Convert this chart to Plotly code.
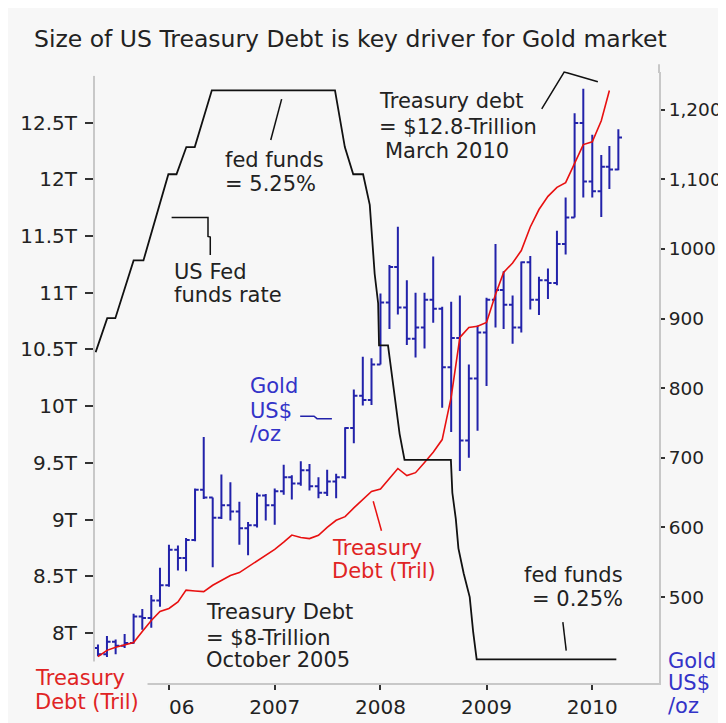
import plotly.graph_objects as go
import pandas as pd

# ---------------- data ----------------
gold_months = pd.date_range("2005-05-01", periods=60, freq="MS")
gold_open = [427, 418, 436, 430, 434, 472, 470, 495, 517, 568, 556, 582, 654, 643, 614, 632, 623, 599, 603, 646,
             632, 652, 672, 663, 682, 659, 650, 666, 672, 743, 789, 783, 834, 923, 974, 916, 871, 887, 927, 914,
             830, 872, 725, 814, 880, 927, 941, 920, 887, 981, 927, 955, 951, 1007, 1045, 1181, 1097, 1083, 1118, 1114]
gold_high = [432, 444, 439, 447, 476, 483, 503, 542, 575, 574, 585, 656, 730, 643, 676, 665, 637, 608, 650, 648,
             656, 690, 675, 695, 691, 672, 683, 677, 744, 798, 845, 843, 936, 977, 1032, 955, 937, 937, 989, 917,
             924, 933, 834, 890, 930, 1007, 968, 933, 982, 990, 960, 972, 1026, 1074, 1195, 1230, 1164, 1135, 1148, 1172]
gold_low = [415, 414, 418, 427, 433, 453, 456, 486, 515, 538, 537, 580, 641, 543, 612, 610, 575, 560, 600, 610,
            604, 647, 640, 660, 653, 642, 645, 642, 670, 721, 775, 776, 834, 885, 906, 862, 844, 857, 894, 772,
            737, 681, 700, 739, 803, 887, 885, 864, 880, 913, 905, 928, 948, 992, 1045, 1074, 1074, 1046, 1086, 1113]
gold_close = [418, 436, 430, 434, 472, 470, 495, 517, 568, 556, 582, 654, 643, 614, 632, 623, 599, 603, 646, 632,
              652, 672, 663, 682, 659, 650, 666, 672, 743, 789, 783, 834, 923, 974, 916, 871, 887, 927, 914, 830,
              872, 725, 814, 880, 927, 941, 920, 887, 981, 927, 955, 951, 1007, 1045, 1181, 1097, 1083, 1118, 1114, 1160]

treasury_months = pd.date_range("2005-05-01", periods=59, freq="MS")
treasury_trillions = [7.790, 7.846, 7.874, 7.894, 7.915, 8.013, 8.110, 8.189, 8.215, 8.273,
                      8.377, 8.370, 8.364, 8.420, 8.465, 8.506, 8.532, 8.581, 8.633, 8.685,
                      8.737, 8.800, 8.863, 8.842, 8.832, 8.861, 8.931, 8.993, 9.025, 9.102,
                      9.179, 9.247, 9.268, 9.357, 9.450, 9.388, 9.413, 9.503, 9.594, 9.705,
                      10.080, 10.606, 10.693, 10.705, 10.738, 10.984, 11.179, 11.263, 11.372, 11.580,
                      11.734, 11.850, 11.929, 11.971, 12.147, 12.307, 12.331, 12.517, 12.784]

fed_dates = ["2005-04-23", "2005-06-02", "2005-06-30", "2005-09-01", "2005-10-05", "2005-12-30",
             "2006-01-27", "2006-03-02", "2006-03-31", "2006-05-29", "2007-07-28", "2007-08-31",
             "2007-09-29", "2007-11-02", "2007-11-25", "2007-12-07", "2007-12-12", "2007-12-24",
             "2007-12-27", "2008-01-27", "2008-02-07", "2008-02-24", "2008-03-07", "2008-03-24",
             "2008-08-31", "2008-09-05", "2008-09-17", "2008-09-26", "2008-10-14", "2008-11-04",
             "2008-11-16", "2008-11-28", "2010-03-25"]
fed_rate = [2.94, 3.24, 3.24, 3.75, 3.75, 4.51, 4.51, 4.75, 4.75, 5.25, 5.25, 4.75,
            4.51, 4.51, 4.24, 3.86, 3.63, 3.37, 3.00, 3.00, 2.79, 2.45, 2.22, 1.99,
            1.99, 1.70, 1.47, 1.21, 0.99, 0.78, 0.47, 0.23, 0.23]

year_ticks = ["2006-01-01", "2007-01-01", "2008-01-01", "2009-01-01", "2010-01-01"]
year_labels = ["2006", "2007", "2008", "2009", "2010"]
treasury_tickvals = [8, 8.5, 9, 9.5, 10, 10.5, 11, 11.5, 12, 12.5]
treasury_ticktext = ["8T", "8.5T", "9T", "9.5T", "10T", "10.5T", "11T", "11.5T", "12T", "12.5T"]
gold_tickvals = [500, 600, 700, 800, 900, 1000, 1100, 1200]
gold_ticktext = ["500", "600", "700", "800", "900", "1000", "1,100", "1,200"]

# ---------------- style / layout helpers ----------------
W, H = 726, 723
L, R, T, B = 86, 655, 64, 687
BG = "#f7f7f7"
BLUE = "#2222aa"
RED = "#e81010"
TXT = "#222222"
BLUE_TXT = "#3333c8"
RED_TXT = "#e02424"
FONT = "DejaVu Sans"
AXLINE = "#c8c8c8"


def px(x):
    return (x - L) / (R - L)


def py(y):
    return (B - y) / (B - T)


fig = go.Figure()
fig.add_trace(go.Ohlc(
    x=gold_months, open=gold_open, high=gold_high, low=gold_low, close=gold_close,
    xaxis="x", yaxis="y", tickwidth=0.45,
    increasing=dict(line=dict(color=BLUE, width=2)),
    decreasing=dict(line=dict(color=BLUE, width=2)),
    showlegend=False, hoverinfo="skip"))
fig.add_trace(go.Scatter(
    x=treasury_months, y=treasury_trillions, xaxis="x", yaxis="y2", mode="lines",
    line=dict(color=RED, width=1.6), showlegend=False, hoverinfo="skip"))
fig.add_trace(go.Scatter(
    x=fed_dates, y=fed_rate, xaxis="x", yaxis="y3", mode="lines",
    line=dict(color="#111111", width=1.8), showlegend=False, hoverinfo="skip"))

tickfont = dict(family=FONT, size=20, color=TXT)

fig.update_layout(
    width=W, height=H,
    margin=dict(l=L, r=W - R, t=T, b=H - B, pad=0),
    paper_bgcolor=BG, plot_bgcolor=BG,
    showlegend=False,
    title=dict(text="Size of US Treasury Debt is key driver for Gold market",
               x=26 / W, xanchor="left", xref="container",
               y=1 - 31 / H, yanchor="middle", yref="container",
               font=dict(family=FONT, size=23.5, color=TXT)),
    xaxis=dict(type="date", range=["2005-04-20 18:00", "2010-08-19 06:00"],
               tickvals=year_ticks, ticktext=year_labels,
               ticks="outside", ticklen=5, tickwidth=1.5, tickcolor="#333333",
               showline=True, linecolor=AXLINE, linewidth=2,
               showgrid=False, zeroline=False, tickfont=tickfont,
               rangeslider=dict(visible=False)),
    yaxis=dict(side="right", range=[376.6, 1254.1],
               tickvals=gold_tickvals, ticktext=gold_ticktext,
               ticks="outside", ticklen=4, tickwidth=1.5, tickcolor="#333333",
               showline=True, linecolor=AXLINE, linewidth=2,
               showgrid=False, zeroline=False,
               tickfont=dict(family=FONT, size=18.5, color=TXT)),
    yaxis2=dict(overlaying="y", side="left", range=[7.558, 12.947],
                tickvals=treasury_tickvals, ticktext=treasury_ticktext,
                ticks="outside", ticklen=8, tickwidth=1.5, tickcolor="#333333",
                ticklabelstandoff=4,
                showline=True, linecolor=AXLINE, linewidth=2,
                showgrid=False, zeroline=False, tickfont=tickfont),
    yaxis3=dict(overlaying="y", visible=False, range=[0.022, 5.412]),
)

# ---------------- text labels ----------------
labels = [
    ("fed funds", 217, 154, TXT), ("= 5.25%", 217, 178.5, TXT),
    ("US Fed", 166, 267.5, TXT), ("funds rate", 166, 291, TXT),
    ("Gold", 242, 384, BLUE_TXT), ("US$", 242, 410, BLUE_TXT), ("/oz", 242, 433, BLUE_TXT),
    ("Treasury debt", 373, 94, TXT), ("= $12.8-Trillion", 373, 120.5, TXT), ("March 2010", 379, 145, TXT),
    ("Treasury Debt", 198, 615, TXT), ("= $8-Trillion", 198, 641, TXT), ("October 2005", 198, 663.5, TXT),
    ("Treasury", 325, 549, RED_TXT), ("Debt (Tril)", 325, 573, RED_TXT),
    ("fed funds", 519, 577, TXT), ("= 0.25%", 527, 601, TXT),
    ("Treasury", 25, 682, RED_TXT), ("Debt (Tril)", 25, 706, RED_TXT),
    ("Gold", 664, 665, BLUE_TXT), ("US$", 664, 687, BLUE_TXT), ("/oz", 664, 710, BLUE_TXT),
]

shapes = [
    # covers (bottom-left label box hides the axis corner and the "20" of 2006)
    dict(type="rect", xref="paper", yref="paper", x0=px(0), x1=px(139), y0=py(723), y1=py(665),
         fillcolor=BG, line=dict(width=0), layer="above"),
    dict(type="rect", xref="paper", yref="paper", x0=px(133), x1=px(160), y0=py(723), y1=py(695),
         fillcolor=BG, line=dict(width=0), layer="above"),
    # left axis line starts a little lower than the plot top
    dict(type="rect", xref="paper", yref="paper", x0=px(83), x1=px(89), y0=py(68), y1=py(60),
         fillcolor=BG, line=dict(width=0), layer="above"),
]


def path(points, color, width=1.5):
    d = "M " + " L ".join(f"{px(x):.5f},{py(y):.5f}" for x, y in points)
    return dict(type="path", xref="paper", yref="paper", path=d,
                line=dict(color=color, width=width), layer="above")


shapes += [
    path([(655, 56), (655, 65)], AXLINE, 2),
    path([(274.3, 91.7), (263.3, 133.3)], "#111111"),
    path([(163.3, 212.3), (200, 212.3), (200, 231.7), (202.3, 232.3), (202.3, 250.7)], "#111111"),
    path([(293, 415), (307, 415), (310, 417.5), (325, 417.5)], BLUE),
    path([(366.7, 501.7), (375, 531.7)], RED),
    path([(536.7, 101.7), (559.3, 64), (563, 65), (593.3, 74)], "#111111"),
    path([(558, 625), (561.4, 654)], "#111111"),
]

annotations = []
for text, x, y, color in labels:
    annotations.append(dict(text=text, xref="paper", yref="paper", x=px(x), y=py(y),
                            xanchor="left", yanchor="middle", showarrow=False,
                            borderpad=0, borderwidth=0,
                            font=dict(family=FONT, size=21, color=color)))

fig.update_layout(shapes=shapes, annotations=annotations)
fig.write_html("out.html")
